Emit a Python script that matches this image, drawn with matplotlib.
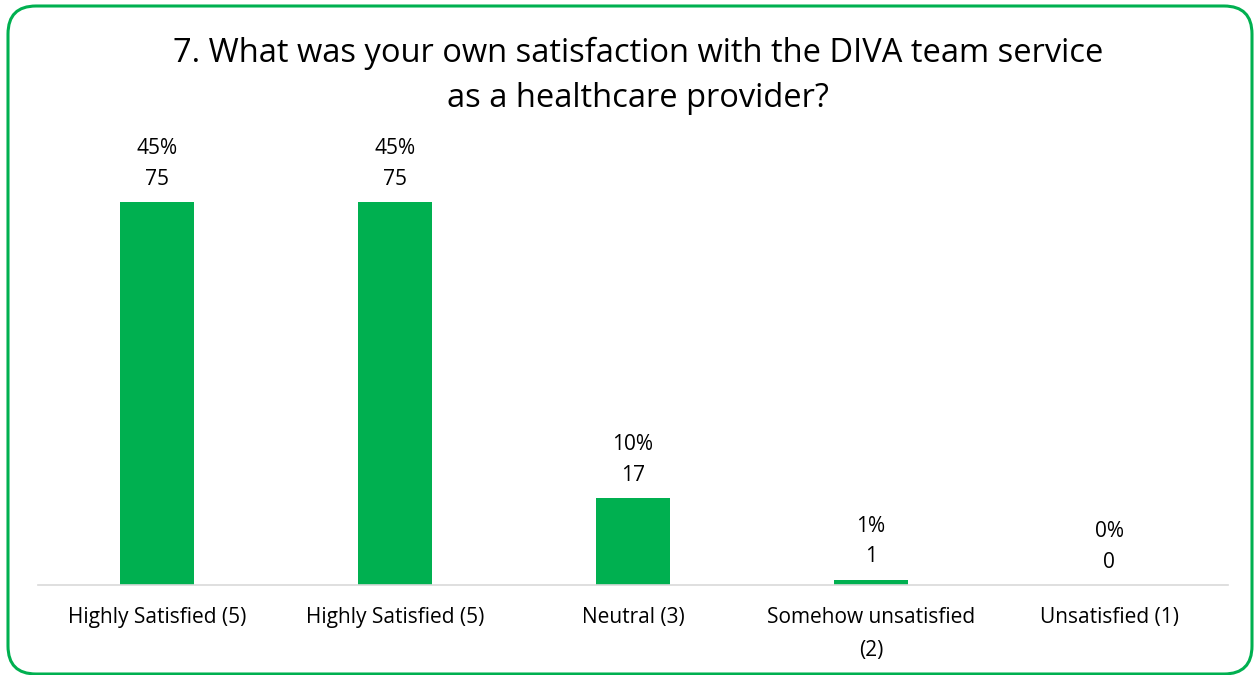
import matplotlib.pyplot as plt
from matplotlib.patches import FancyBboxPatch
from matplotlib.transforms import IdentityTransform

# Données du graphique
categories = ["Highly Satisfied (5)", "Highly Satisfied (5)", "Neutral (3)",
              "Somehow unsatisfied\n(2)", "Unsatisfied (1)"]
counts = [75, 75, 17, 1, 0]
percents = ["45%", "45%", "10%", "1%", "0%"]

title = "7. What was your own satisfaction with the DIVA team service\nas a healthcare provider?"

green = "#00B050"
plt.rcParams['font.family'] = ['Open Sans', 'DejaVu Sans']

fig = plt.figure(figsize=(12.54, 6.75), dpi=100)

# Cadre vert arrondi (en pixels)
cadre = FancyBboxPatch((8, 1), 1244, 668, boxstyle="round,pad=0,rounding_size=28",
                       transform=IdentityTransform(), fill=False,
                       edgecolor=green, linewidth=2.2)
fig.patches.append(cadre)

ax = fig.add_axes([38 / 1254, 90 / 675, 1190 / 1254, 445 / 675])
x = list(range(len(categories)))
bars = ax.bar(x, counts, width=0.31, color=green)

ax.set_xlim(-0.5, 4.5)
ax.set_ylim(0, 445 / 5.107)

for spine in ["top", "right", "left"]:
    ax.spines[spine].set_visible(False)
ax.spines["bottom"].set_color("#D9D9D9")
ax.spines["bottom"].set_linewidth(1.2)
ax.set_yticks([])
ax.set_xticks(x)
ax.set_xticklabels(categories, fontsize=15, color="#000000", linespacing=1.75)
ax.tick_params(axis="x", length=0, pad=16)

# Étiquettes de valeurs
for xi, c, p in zip(x, counts, percents):
    ax.annotate(str(c), (xi, c), xytext=(0, 16.5), textcoords="offset points",
                ha="center", va="center", fontsize=15)
    ax.annotate(p, (xi, c), xytext=(0, 38.5), textcoords="offset points",
                ha="center", va="center", fontsize=15)

fig.text(638 / 1254, 1 - 76 / 675, title, ha="center", va="center",
         fontsize=23.5, linespacing=1.5)

fig.savefig("out.png", dpi=100)
